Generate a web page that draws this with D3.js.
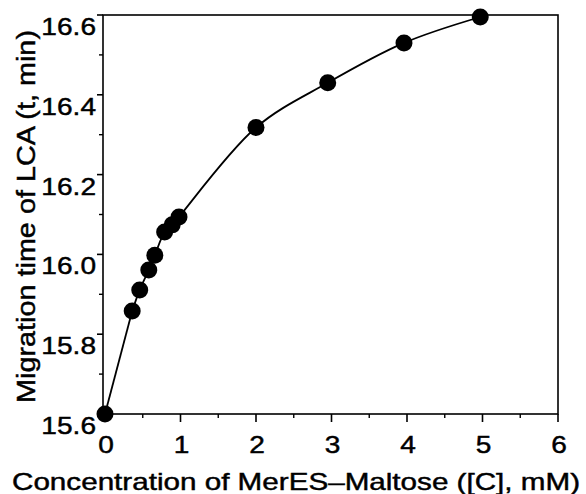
<!DOCTYPE html>
<html>

<head>
    <title>LCA migration</title>
    <style>
        html,
        body {
            margin: 0;
            padding: 0;
            background-color: #ffffff;
        }

        svg text {
            font-family: "Liberation Sans", Arial, sans-serif;
            fill: #000;
            stroke: #000;
            stroke-width: 0.45px;
        }
    </style>
</head>

<body>
    <div id="container"></div>

    <script src="https://d3js.org/d3.v7.min.js"></script>

    <script>
        // values
        var conc = [0, 0.36, 0.46, 0.58, 0.66, 0.79, 0.89, 0.98, 2.0, 2.95, 3.96, 4.97];
        var migTime = [15.6, 15.858, 15.911, 15.961, 15.998, 16.056, 16.074, 16.094, 16.318, 16.43, 16.53, 16.595];
        var xTicks = [0, 1, 2, 3, 4, 5, 6];
        var xMinor = [0.5, 1.5, 2.5, 3.5, 4.5, 5.5];
        var yTicks = [15.6, 15.8, 16.0, 16.2, 16.4, 16.6];
        var yMinor = [15.7, 15.9, 16.1, 16.3, 16.5];

        var W = 586, H = 494;
        var m = { left: 105, right: 558, top: 15, bottom: 414 };
        var stretch = 1.17; // the reference lettering is a bit wide

        var svg = d3.select("#container").append("svg")
            .attr("width", W)
            .attr("height", H);

        var x = d3.scaleLinear().domain([0, 6]).range([m.left, m.right]);
        var y = d3.scaleLinear().domain([15.6, 16.6]).range([m.bottom, m.top]);

        // frame
        svg.append("rect")
            .attr("x", m.left - 2)
            .attr("y", m.top)
            .attr("width", m.right - m.left + 2)
            .attr("height", m.bottom - m.top)
            .style("fill", "none")
            .style("stroke", "#000")
            .style("stroke-width", 1.6);

        // x axis
        var xAxis = svg.append("g").attr("transform", "translate(0," + m.bottom + ")");
        xAxis.selectAll(".maj").data(xTicks).enter().append("line")
            .attr("x1", d => x(d)).attr("x2", d => x(d))
            .attr("y1", 0).attr("y2", 8)
            .style("stroke", "#000").style("stroke-width", 1.6);
        xAxis.selectAll(".min").data(xMinor).enter().append("line")
            .attr("x1", d => x(d)).attr("x2", d => x(d))
            .attr("y1", 0).attr("y2", 4)
            .style("stroke", "#000").style("stroke-width", 1.4);
        xAxis.selectAll("text").data(xTicks).enter().append("text")
            .attr("transform", d => "translate(" + (x(d) + 1) + ",39) scale(" + stretch + ",1)")
            .attr("text-anchor", "middle")
            .style("font-size", "24px")
            .text(d => d);

        // y axis
        var yAxis = svg.append("g").attr("transform", "translate(" + (m.left - 2) + ",0)");
        yAxis.selectAll(".maj").data(yTicks).enter().append("line")
            .attr("x1", 0).attr("x2", -6)
            .attr("y1", d => y(d)).attr("y2", d => y(d))
            .style("stroke", "#000").style("stroke-width", 1.6);
        yAxis.selectAll(".min").data(yMinor).enter().append("line")
            .attr("x1", 0).attr("x2", -4)
            .attr("y1", d => y(d)).attr("y2", d => y(d))
            .style("stroke", "#000").style("stroke-width", 1.4);
        yAxis.selectAll("text").data(yTicks).enter().append("text")
            .attr("transform", d => "translate(-7," + (y(d) + 20) + ") scale(" + stretch + ",1)")
            .attr("text-anchor", "end")
            .style("font-size", "24px")
            .text(d => d.toFixed(1));

        // axis titles
        svg.append("text")
            .attr("x", 12)
            .attr("y", 490)
            .attr("textLength", 568)
            .attr("lengthAdjust", "spacingAndGlyphs")
            .style("font-size", "24px")
            .text("Concentration of MerES\u2013Maltose ([C], mM)");

        svg.append("text")
            .attr("transform", "translate(35,403) rotate(-90)")
            .attr("textLength", 373)
            .attr("lengthAdjust", "spacingAndGlyphs")
            .style("font-size", "25px")
            .text("Migration time of LCA (t, min)");

        // fitted curve: straight first leg, smooth spline through the rest
        var pts = conc.map((c, i) => [c, migTime[i]]);
        var line = d3.line()
            .x(d => x(d[0]))
            .y(d => y(d[1]));

        svg.append("path")
            .datum(pts.slice(0, 2))
            .attr("d", line.curve(d3.curveLinear))
            .style("fill", "none")
            .style("stroke", "#000")
            .style("stroke-width", 1.8);

        svg.append("path")
            .datum(pts.slice(1))
            .attr("d", line.curve(d3.curveCatmullRom.alpha(0.5)))
            .style("fill", "none")
            .style("stroke", "#000")
            .style("stroke-width", 1.8);

        svg.selectAll("circle").data(pts).enter().append("circle")
            .attr("cx", d => x(d[0]))
            .attr("cy", d => y(d[1]))
            .attr("r", 8.5)
            .style("fill", "#000");
    </script>
</body>

</html>
